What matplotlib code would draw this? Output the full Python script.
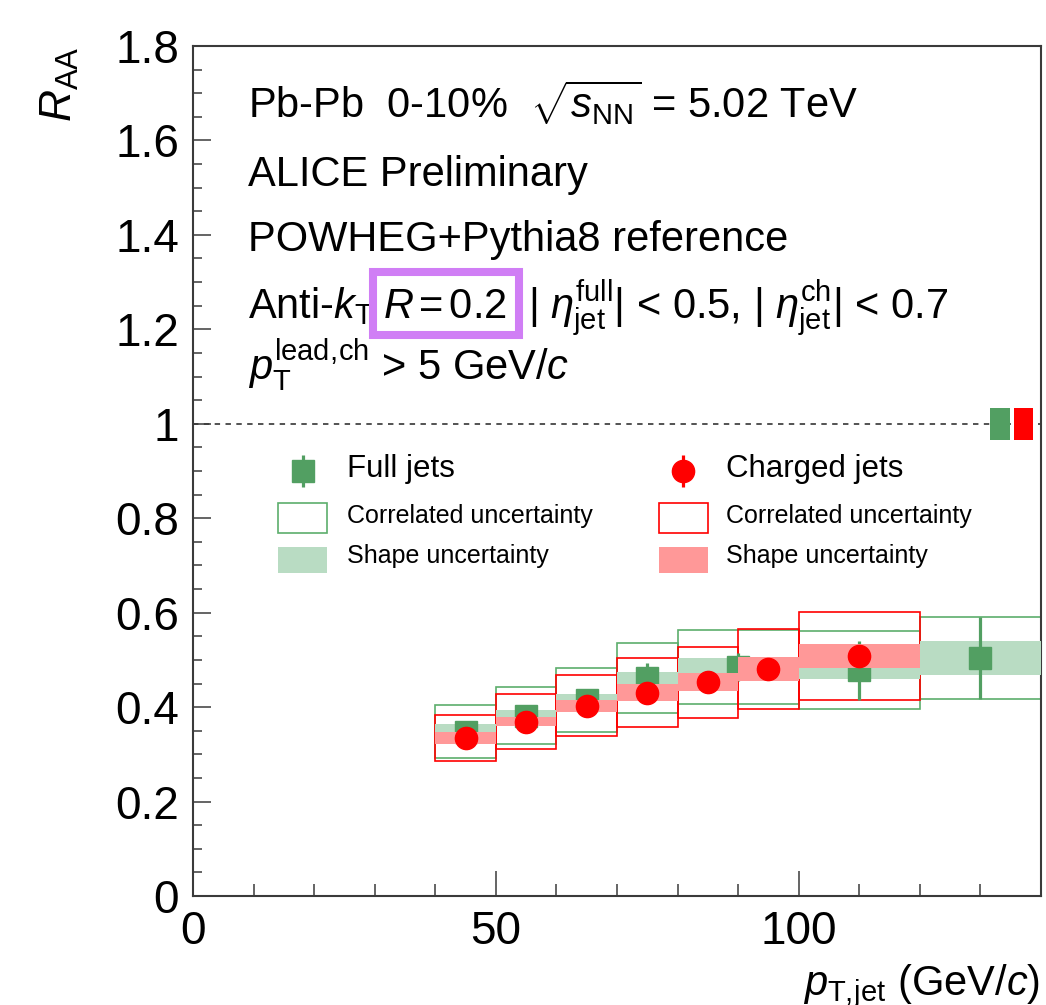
import numpy as np
import matplotlib
matplotlib.use("Agg")
import matplotlib.pyplot as plt
from matplotlib.patches import Rectangle
from matplotlib.ticker import MultipleLocator, FuncFormatter

plt.rcParams['font.family'] = ['Liberation Sans', 'DejaVu Sans']
plt.rcParams['mathtext.fontset'] = 'custom'
plt.rcParams['mathtext.rm'] = 'Liberation Sans'
plt.rcParams['mathtext.it'] = 'Liberation Sans:italic'
plt.rcParams['mathtext.bf'] = 'Liberation Sans:bold'

# full jets (R = 0.2), bins in pT,jet
full_edges = [40, 50, 60, 70, 80, 100, 120, 140]
full_raa = [0.348, 0.382, 0.415, 0.462, 0.485, 0.478, 0.504]
full_stat = [0.008, 0.008, 0.012, 0.032, 0.030, 0.062, 0.087]
full_shape = [0.016, 0.012, 0.012, 0.012, 0.020, 0.018, 0.035]
full_corr = [0.056, 0.061, 0.067, 0.074, 0.078, 0.083, 0.087]
full_norm = 0.034

# charged jets
ch_edges = [40, 50, 60, 70, 80, 90, 100, 120]
ch_raa = [0.335, 0.369, 0.403, 0.430, 0.453, 0.481, 0.508]
ch_stat = [0.006, 0.007, 0.008, 0.009, 0.010, 0.012, 0.020]
ch_shape = [0.013, 0.010, 0.013, 0.018, 0.019, 0.026, 0.025]
ch_corr = [0.049, 0.058, 0.065, 0.073, 0.075, 0.084, 0.093]
ch_norm = 0.034

GREEN = '#529f62'
GREEN_BOX = '#5cae6c'
GREEN_BAND = '#b9dcc3'
RED = '#ff0000'
RED_BAND = '#ff9898'
AXC = '#3a3a3a'

def centers_widths(edges):
    e = np.asarray(edges, float)
    return 0.5 * (e[1:] + e[:-1]), np.diff(e)

fx, fw = centers_widths(full_edges)
cx, cw = centers_widths(ch_edges)
fy, fs, fsh, fc = map(np.asarray, (full_raa, full_stat, full_shape, full_corr))
cy, cs, csh, cc = map(np.asarray, (ch_raa, ch_stat, ch_shape, ch_corr))

fig = plt.figure(figsize=(10.46, 10.05), dpi=100)
ax = fig.add_axes([193/1046, 1 - 896/1005, 848/1046, 850/1005])
ax.set_xlim(0, 140)
ax.set_ylim(0, 1.8)

# reference line at unity
ax.axhline(1.0, color='#444444', lw=1.3, ls=(0, (3, 3)), zorder=1)

# correlated uncertainty boxes
ax.bar(fx, 2*fc, bottom=fy - fc, width=fw, fill=False, edgecolor=GREEN_BOX, lw=1.2, zorder=2)
ax.bar(cx, 2*cc, bottom=cy - cc, width=cw, fill=False, edgecolor=RED, lw=1.2, zorder=2.1)

# shape uncertainty bands
ax.bar(fx, 2*fsh, bottom=fy - fsh, width=fw, color=GREEN_BAND, lw=0, zorder=3)
ax.errorbar(fx, fy, yerr=fs, fmt='s', ms=15.5, color=GREEN, mec=GREEN,
            elinewidth=2.3, capsize=0, zorder=4)
ax.bar(cx, 2*csh, bottom=cy - csh, width=cw, color=RED_BAND, lw=0, zorder=5)
ax.errorbar(cx, cy, yerr=cs, fmt='o', ms=16, color=RED, mec=RED,
            elinewidth=2.3, capsize=0, zorder=6)

# normalisation uncertainties at unity
ax.bar([133.2], [2*full_norm], bottom=1 - full_norm, width=3.2, color=GREEN, lw=0, zorder=3)
ax.bar([137.15], [2*ch_norm], bottom=1 - ch_norm, width=3.1, color=RED, lw=0, zorder=3)

# axes style
for side in ('top', 'right', 'left', 'bottom'):
    ax.spines[side].set_color(AXC)
    ax.spines[side].set_linewidth(1.5)
ax.xaxis.set_major_locator(MultipleLocator(50))
ax.xaxis.set_minor_locator(MultipleLocator(10))
ax.yaxis.set_major_locator(MultipleLocator(0.2))
ax.yaxis.set_minor_locator(MultipleLocator(0.05))
ax.yaxis.set_major_formatter(FuncFormatter(lambda v, p: '%g' % round(v, 2)))
ax.tick_params(axis='both', which='both', direction='in', color=AXC, width=1.1,
               labelsize=33, top=False, right=False)
ax.tick_params(axis='y', which='major', length=13, pad=10)
ax.tick_params(axis='y', which='minor', length=6.5)
ax.tick_params(axis='x', which='major', length=18, pad=10)
ax.tick_params(axis='x', which='minor', length=8.6)

ax.text((60 - 193)/848, 1.0, r'$R_{\rm AA}$', transform=ax.transAxes, rotation=90,
        ha='center', va='top', fontsize=32)
fig.text(1040/1046, 1 - 995/1005, r'$p_{\rm T,\!jet}$ (GeV/$c$)', ha='right',
         va='baseline', fontsize=30)

# header text
tx = (248 - 193)/848
fs_txt = 30
ax.text(tx, 0.9153, r'Pb-Pb  0-10%  $\sqrt{s_{\rm NN}}$ = 5.02 TeV', transform=ax.transAxes,
        fontsize=fs_txt, va='baseline')
ax.text(tx, 0.8353, 'ALICE Preliminary', transform=ax.transAxes, fontsize=fs_txt, va='baseline')
ax.text(tx, 0.7588, 'POWHEG+Pythia8 reference', transform=ax.transAxes, fontsize=fs_txt,
        va='baseline')
ax.text(tx, 0.68, r'Anti-$k_{\rm T}$', transform=ax.transAxes, fontsize=fs_txt, va='baseline')
ax.text((383 - 193)/848, 0.68, r'$R$$\,$=$\,$0.2', transform=ax.transAxes, fontsize=fs_txt,
        va='baseline')
ax.text((528 - 193)/848, 0.68,
        r'| $\eta^{\rm full}_{\rm jet}$| < 0.5, | $\eta^{\rm ch}_{\rm jet}$| < 0.7',
        transform=ax.transAxes, fontsize=fs_txt, va='baseline')
ax.add_patch(Rectangle(((373 - 193)/848, (896 - 335)/850), 146/848, 63/850,
                       transform=ax.transAxes, fill=False, edgecolor='#d07ef5', lw=5.8,
                       zorder=10, clip_on=False))
ax.text(tx, 0.607, r'$p_{\rm T}^{\rm lead,\!ch}$ > 5 GeV/$c$', transform=ax.transAxes,
        fontsize=fs_txt, va='baseline')

# legend
def fx_(px):
    return (px - 193)/848

def fy_(py):
    return (896 - py)/850

T = ax.transAxes
ax.errorbar([fx_(303)], [fy_(471)], yerr=[0.019], fmt='s', ms=15.5, color=GREEN,
            elinewidth=2.3, capsize=0, transform=T, clip_on=False)
ax.text(fx_(347), fy_(477), 'Full jets', transform=T, fontsize=22.5, va='baseline')
ax.errorbar([fx_(683)], [fy_(471)], yerr=[0.019], fmt='o', ms=16, color=RED,
            elinewidth=2.3, capsize=0, transform=T, clip_on=False)
ax.text(fx_(726), fy_(477), 'Charged jets', transform=T, fontsize=22.5, va='baseline')

for x0, x1, tx0, ec, fc_ in ((278, 327, 347, GREEN_BOX, GREEN_BAND),
                             (659, 708, 726, RED, RED_BAND)):
    ax.add_patch(Rectangle((fx_(x0), fy_(533)), (x1 - x0)/848, 30/850, transform=T,
                           fill=False, edgecolor=ec, lw=1.2))
    ax.text(fx_(tx0), fy_(523), 'Correlated uncertainty', transform=T, fontsize=18,
            va='baseline')
    ax.add_patch(Rectangle((fx_(x0), fy_(573)), (x1 - x0)/848, 26/850, transform=T,
                           facecolor=fc_, lw=0))
    ax.text(fx_(tx0), fy_(563), 'Shape uncertainty', transform=T, fontsize=18,
            va='baseline')

fig.savefig('out.png', dpi=100, facecolor='white')
